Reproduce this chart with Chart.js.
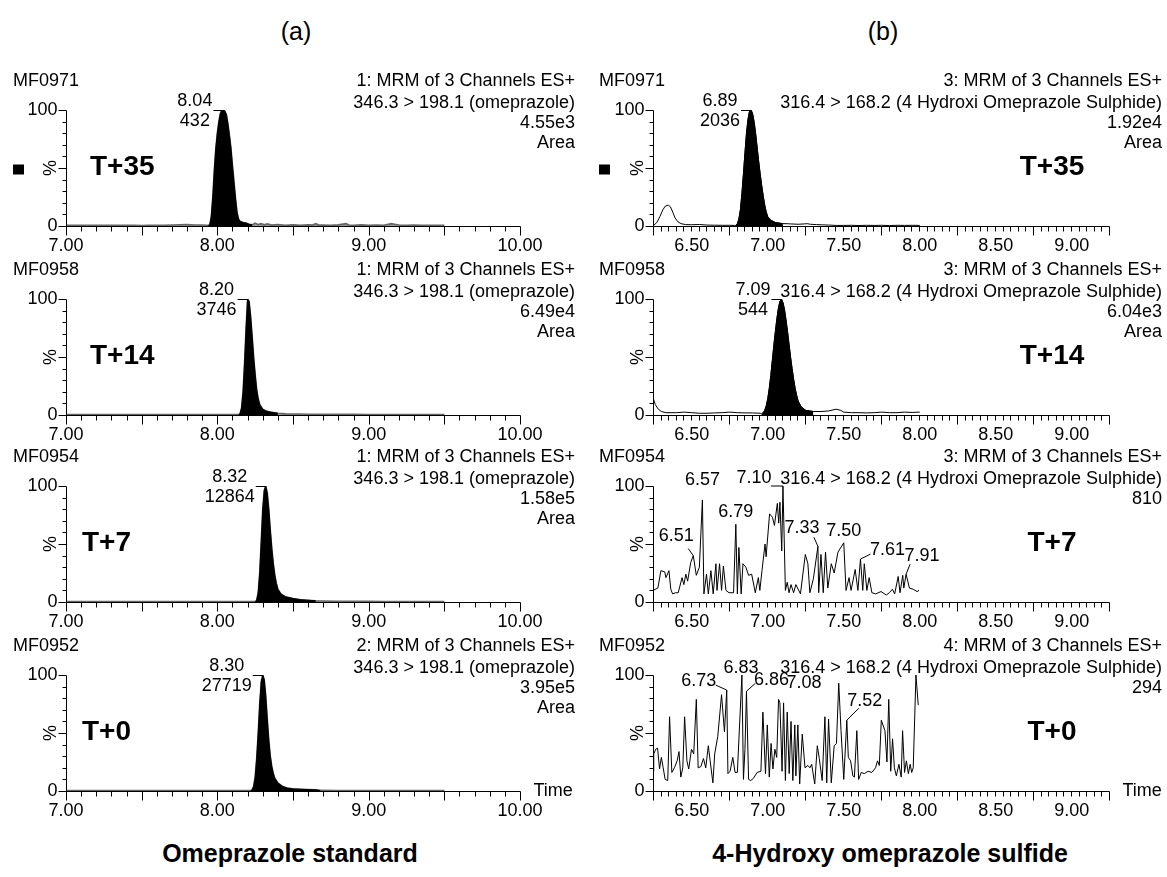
<!DOCTYPE html>
<html>
<head>
<meta charset="utf-8">
<script src="https://cdn.jsdelivr.net/npm/chart.js@4/dist/chart.umd.min.js"></script>
<style>
  body { margin: 0; background: #fff; }
  #page { position: relative; width: 1167px; height: 877px; overflow: hidden;
          font-family: "Liberation Sans", Arial, sans-serif; color: #000; }
  #page canvas { position: absolute; }
  .lbl { position: absolute; text-align: center; white-space: nowrap; line-height: 1; }
</style>
</head>
<body>
<div id="page">
  <div class="lbl" style="left:196px;width:200px;top:19px;font-size:25px">(a)</div>
  <div class="lbl" style="left:783px;width:200px;top:19px;font-size:25px">(b)</div>
  <div class="lbl" style="left:40px;width:500px;top:841px;font-size:25px;font-weight:bold">Omeprazole standard</div>
  <div class="lbl" style="left:640px;width:500px;top:841px;font-size:25px;font-weight:bold">4-Hydroxy omeprazole sulfide</div>
</div>
<script>
// ---- data: [time (min), intensity (%)] ----
const sampleIds = ['MF0971', 'MF0958', 'MF0954', 'MF0952'];
const timePoints = ['T+35', 'T+14', 'T+7', 'T+0'];

const omeChannels = ['1: MRM of 3 Channels ES+', '1: MRM of 3 Channels ES+', '1: MRM of 3 Channels ES+', '2: MRM of 3 Channels ES+'];
const omeTransition = '346.3 > 198.1 (omeprazole)';
const omeIntensity = ['4.55e3', '6.49e4', '1.58e5', '3.95e5'];
const omeAreaTag = ['Area', 'Area', 'Area', 'Area'];
const omeXTicks = [7, 8, 9, 10];
const omePeaks = [[8.04, '432'], [8.20, '3746'], [8.32, '12864'], [8.30, '27719']];
const omeFill = [[7.94, 8.23], [8.14, 8.40], [8.25, 8.65], [8.22, 8.68]];

const hydChannels = ['3: MRM of 3 Channels ES+', '3: MRM of 3 Channels ES+', '3: MRM of 3 Channels ES+', '4: MRM of 3 Channels ES+'];
const hydTransition = '316.4 > 168.2 (4 Hydroxi Omeprazole Sulphide)';
const hydIntensity = ['1.92e4', '6.04e3', '810', '294'];
const hydAreaTag = ['Area', 'Area', '', ''];
const hydXTicks = [6.5, 7, 7.5, 8, 8.5, 9];
const hydPeaks = [[6.89, '2036'], [7.09, '544'], null, null];
const hydFill = [[6.79, 7.10], [6.96, 7.30], null, null];

const omeT35 = [[7.00,0.6],[7.05,0.5],[7.10,0.6],[7.15,0.5],[7.20,0.7],[7.25,0.5],[7.30,0.6],[7.35,0.5],[7.40,0.6],[7.45,0.5],
  [7.50,0.4],[7.55,0.6],[7.60,0.5],[7.65,0.7],[7.70,0.9],[7.75,1.1],[7.80,1.2],[7.85,0.9],[7.90,0.8],[7.93,0.6],
  [7.94,0.5],[7.95,1],[7.96,8],[7.97,25],[7.98,48],[7.99,67],[8.00,80],[8.01,90],[8.02,97],[8.03,100],[8.04,100],
  [8.05,99],[8.06,96],[8.07,88],[8.08,78],[8.09,67],[8.10,52],[8.11,38],[8.12,24],[8.13,12],[8.14,6],[8.15,4],
  [8.17,3],[8.19,2.5],[8.21,1.5],[8.23,1],[8.25,2.5],[8.27,1.2],[8.29,2],[8.31,1],[8.33,1.8],[8.36,0.8],[8.40,1.2],
  [8.45,0.6],[8.50,1],[8.55,0.6],[8.60,1],[8.63,0.8],[8.65,2],[8.67,0.8],[8.70,0.9],[8.75,0.6],[8.80,1],[8.85,2],
  [8.87,0.9],[8.90,0.7],[8.95,1],[9.00,0.6],[9.05,0.8],[9.10,0.7],[9.15,2],[9.17,1.5],[9.20,0.8],[9.25,0.6],
  [9.30,0.8],[9.35,0.5],[9.40,0.6],[9.45,0.5],[9.50,0.6]];

const omeT14 = [[7.00,0.4],[7.10,0.3],[7.20,0.4],[7.30,0.3],[7.40,0.4],[7.50,0.3],[7.60,0.4],[7.70,0.3],[7.80,0.4],
  [7.90,0.3],[8.00,0.4],[8.10,0.3],[8.14,0.3],[8.15,1],[8.16,6],[8.17,20],[8.18,45],[8.19,75],[8.20,100],[8.21,98],
  [8.22,85],[8.23,68],[8.24,50],[8.25,35],[8.26,22],[8.27,14],[8.28,9],[8.30,5],[8.32,3.5],[8.35,2.5],[8.40,1.5],
  [8.45,1],[8.50,0.8],[8.55,0.8],[8.60,0.7],[8.70,0.6],[8.80,0.5],[8.90,0.5],[9.00,0.4],[9.10,0.4],[9.20,0.3],
  [9.30,0.4],[9.40,0.3],[9.50,0.3]];

const omeT7 = [[7.00,0.3],[7.10,0.4],[7.20,0.3],[7.30,0.4],[7.40,0.3],[7.50,0.4],[7.60,0.3],[7.70,0.4],[7.80,0.3],
  [7.90,0.4],[8.00,0.3],[8.10,0.4],[8.20,0.3],[8.25,0.3],[8.26,1.5],[8.27,8],[8.28,25],[8.29,52],[8.30,80],[8.31,96],
  [8.32,100],[8.33,94],[8.34,80],[8.35,62],[8.36,46],[8.37,33],[8.38,23],[8.39,16],[8.40,11],[8.42,7],[8.45,4.5],
  [8.50,3],[8.55,2],[8.60,1.5],[8.65,1],[8.70,0.8],[8.80,0.6],[8.90,0.5],[9.00,0.5],[9.10,0.4],[9.20,0.4],
  [9.30,0.3],[9.40,0.4],[9.50,0.3]];

const omeT0 = [[7.00,0.3],[7.10,0.3],[7.20,0.4],[7.30,0.3],[7.40,0.3],[7.50,0.4],[7.60,0.3],[7.70,0.3],[7.80,0.4],
  [7.90,0.3],[8.00,0.3],[8.10,0.4],[8.20,0.3],[8.22,0.3],[8.23,1],[8.24,4],[8.25,12],[8.26,28],[8.27,50],[8.28,75],
  [8.29,94],[8.30,100],[8.31,96],[8.32,82],[8.33,62],[8.34,44],[8.35,30],[8.36,21],[8.37,15],[8.38,11],[8.40,7],
  [8.43,4],[8.46,2.5],[8.50,1.8],[8.55,1.5],[8.60,1.2],[8.65,1],[8.68,0.5],[8.80,0.4],[8.90,0.4],[9.00,0.3],
  [9.10,0.3],[9.20,0.3],[9.30,0.3],[9.40,0.3],[9.50,0.3]];

const hydT35 = [[6.245,0],[6.27,3],[6.29,8],[6.31,14],[6.325,17],[6.345,18],[6.36,16.5],[6.375,12],[6.39,7],[6.41,3.5],
  [6.43,2],[6.46,1.2],[6.50,1.1],[6.55,1.3],[6.60,0.8],[6.65,0.7],[6.70,0.6],[6.75,0.6],[6.78,0.5],
  [6.79,0.5],[6.80,2],[6.81,6],[6.82,14],[6.83,28],[6.84,45],[6.85,63],[6.86,80],[6.87,92],[6.88,99],[6.89,100],
  [6.90,97],[6.91,90],[6.92,80],[6.93,68],[6.94,56],[6.95,45],[6.96,35],[6.97,26],[6.98,18],[6.99,12],[7.00,8],
  [7.02,5],[7.05,3],[7.10,2],[7.12,2],[7.15,1.8],[7.20,1.5],[7.24,1.8],[7.26,2],[7.28,1.5],[7.32,1.2],[7.36,1],
  [7.40,0.8],[7.45,0.5],[7.50,0.5],[7.55,0.6],[7.60,0.4],[7.65,0.6],[7.70,0.5],[7.75,0.6],[7.80,0.4],[7.85,0.6],
  [7.90,0.5],[7.95,0.6],[8.00,0.5]];

const hydT14 = [[6.245,15],[6.26,9],[6.28,5],[6.30,3],[6.33,2],[6.40,2],[6.45,2.5],[6.50,2],[6.55,1.5],[6.60,1.5],
  [6.65,1.8],[6.70,2],[6.75,2.5],[6.80,2],[6.85,1.8],[6.90,1.8],[6.95,1.5],[6.96,1],[6.97,2],[6.98,4],[6.99,8],
  [7.00,14],[7.01,23],[7.02,34],[7.03,47],[7.04,60],[7.05,72],[7.06,83],[7.07,92],[7.08,98],[7.09,100],[7.10,97],
  [7.11,91],[7.12,82],[7.13,72],[7.14,61],[7.15,50],[7.16,40],[7.17,31],[7.18,23],[7.19,17],[7.20,12],[7.22,7],
  [7.25,4],[7.30,3],[7.35,3],[7.40,3.5],[7.45,5],[7.48,4],[7.50,2.5],[7.55,2],[7.60,2],[7.65,1.8],[7.70,2],
  [7.75,2.5],[7.80,2],[7.85,2],[7.90,2.5],[7.95,2.2],[8.00,2.5]];

const hydT7 = [[6.245,10],[6.277,12],[6.297,27],[6.322,26],[6.330,21],[6.350,27],[6.362,11],[6.374,7],[6.394,8],
  [6.411,8],[6.436,21],[6.448,15],[6.461,24],[6.473,18],[6.493,34],[6.51,40],[6.53,23],[6.55,30],[6.57,88],[6.58,7],
  [6.597,24],[6.609,7],[6.626,27],[6.641,7],[6.659,33],[6.666,10],[6.683,33],[6.696,10],[6.708,31],[6.725,10],
  [6.745,8],[6.775,8],[6.79,67],[6.80,7],[6.81,47],[6.825,7],[6.837,33],[6.856,30],[6.874,23],[6.894,24],[6.918,8],
  [6.938,21],[6.948,10],[6.962,27],[6.982,50],[6.989,39],[7.012,76],[7.031,73],[7.044,66],[7.063,85],[7.072,68],
  [7.08,86],[7.092,44],[7.10,100],[7.116,10],[7.128,17],[7.14,8],[7.153,15],[7.17,8],[7.185,15],[7.215,7],
  [7.247,41],[7.264,33],[7.277,8],[7.30,20],[7.33,48],[7.335,8],[7.35,41],[7.365,8],[7.38,43],[7.395,12],[7.418,33],
  [7.437,25],[7.462,43],[7.50,51],[7.515,10],[7.535,21],[7.548,10],[7.575,28],[7.593,10],[7.61,37],[7.625,10],
  [7.635,33],[7.652,10],[7.667,21],[7.685,8],[7.71,7],[7.745,9],[7.78,6],[7.80,8],[7.82,11],[7.835,7],[7.858,22],
  [7.87,8],[7.888,23],[7.895,12],[7.91,24],[7.932,12],[7.957,11],[7.982,9],[7.995,10]];

const hydT0 = [[6.245,17],[6.25,32],[6.263,36],[6.275,37],[6.288,19],[6.30,29],[6.312,20],[6.325,10],[6.342,9],
  [6.354,64],[6.369,16],[6.386,20],[6.404,26],[6.416,34],[6.428,12],[6.441,20],[6.453,64],[6.468,26],[6.48,19],
  [6.498,36],[6.513,32],[6.53,79],[6.542,20],[6.56,21],[6.577,28],[6.592,20],[6.609,39],[6.621,26],[6.639,7],
  [6.651,32],[6.671,47],[6.696,83],[6.715,51],[6.73,87],[6.738,15],[6.752,17],[6.77,29],[6.785,16],[6.80,16],
  [6.83,100],[6.84,10],[6.85,36],[6.86,86],[6.874,10],[6.888,9],[6.906,11],[6.93,16],[6.955,17],[6.968,68],
  [6.985,15],[6.997,57],[7.01,12],[7.022,41],[7.034,19],[7.047,36],[7.059,29],[7.071,79],[7.08,76],[7.094,17],
  [7.104,76],[7.116,9],[7.128,68],[7.141,15],[7.153,60],[7.165,9],[7.178,57],[7.185,13],[7.198,57],[7.21,6],
  [7.227,49],[7.245,20],[7.264,22],[7.277,20],[7.289,23],[7.309,6],[7.326,39],[7.339,28],[7.358,9],[7.376,64],
  [7.388,7],[7.40,62],[7.418,7],[7.437,39],[7.452,41],[7.467,93],[7.482,52],[7.50,10],[7.52,61],[7.53,29],
  [7.545,26],[7.56,13],[7.57,12],[7.586,52],[7.598,10],[7.615,16],[7.635,15],[7.66,17],[7.685,16],[7.709,20],
  [7.722,26],[7.734,22],[7.747,61],[7.771,52],[7.784,25],[7.796,79],[7.809,17],[7.821,45],[7.833,20],[7.846,13],
  [7.863,23],[7.878,12],[7.887,52],[7.90,16],[7.912,26],[7.925,15],[7.937,23],[7.947,16],[7.957,20],[7.975,100],
  [7.99,74]];

// labelled apexes of the noisy traces: [time, intensity]
const hydT7Apex = [[6.51,40],[6.57,88],[6.79,67],[7.10,100],[7.33,48],[7.50,51],[7.61,37],[7.91,24]];
const hydT0Apex = [[6.73,87],[6.83,100],[6.86,86],[7.08,76],[7.52,61]];

// ---- layout / style (kept apart from the data) ----
// label placement relative to apex: [dx, dy, leaderX, leaderY]
const hydT7LabelPos = [[-17,-20,-5,-7],[0,-20],[0,-12],[-29,-8,-12,0],[-16,-18,-4,-9],[0,-12],[27,-9,10,-5],[16,-18,4,-10]];
const hydT0LabelPos = [[-28,-9,-11,-5],[-1,-7],[25,-11,9,-8],[24,-20],[18,-19,12,-12]];

const FONT = '"Liberation Sans", Arial, sans-serif';
const rowTop = [110, 299, 486, 675];
const PLOT_H = 116, PAD_T = 50, PAD_B = 30;

const columns = [
  { pageX: 0, width: 583, padL: 66, padR: 63, xMin: 7, xMax: 10, minor: 0.1, major: 0.5, textRight: 575, mfX: 13,
    tagX: [90, 90, 82, 82], tagAlign: 'left', grey: true,
    xTicks: omeXTicks, channels: omeChannels, transition: omeTransition, intensity: omeIntensity, areaTag: omeAreaTag,
    peaks: omePeaks, fills: omeFill, traces: [omeT35, omeT14, omeT7, omeT0], apex: [null, null, null, null] },
  { pageX: 583, width: 584, padL: 70, padR: 58, xMin: 6.245, xMax: 9.245, minor: 0.05, major: 0.5, textRight: 1162, mfX: 599,
    tagX: [1052, 1052, 1052, 1052], tagAlign: 'center', grey: false,
    xTicks: hydXTicks, channels: hydChannels, transition: hydTransition, intensity: hydIntensity, areaTag: hydAreaTag,
    peaks: hydPeaks, fills: hydFill, traces: [hydT35, hydT14, hydT7, hydT0],
    apex: [null, null, [hydT7Apex, hydT7LabelPos], [hydT0Apex, hydT0LabelPos]] }
];

function decor(col, r) {
  return {
    id: 'decor',
    afterDatasetsDraw(chart) {
      const c = chart.ctx, xs = chart.scales.x, ys = chart.scales.y, a = chart.chartArea;
      const L = Math.round(a.left) + 0.5, R = Math.round(a.right) + 0.5;
      const T = Math.round(a.top) + 0.5, B = Math.round(a.bottom) + 0.5;
      c.save();
      c.strokeStyle = '#000'; c.fillStyle = '#000'; c.lineWidth = 1;

      // axes and ticks
      c.beginPath();
      c.moveTo(L, T); c.lineTo(L, B); c.lineTo(R, B);
      for (let v = 0; v <= 100; v += 10) {
        const y = Math.round(ys.getPixelForValue(v)) + 0.5;
        c.moveTo(L - (v % 50 === 0 ? 8 : 4), y); c.lineTo(L, y);
      }
      const n = Math.round((col.xMax - col.xMin) / col.minor), every = Math.round(col.major / col.minor);
      for (let i = 0; i <= n; i++) {
        const x = Math.round(xs.getPixelForValue(col.xMin + i * col.minor)) + 0.5;
        c.moveTo(x, B); c.lineTo(x, B + (i % every === 0 ? 9 : 5));
      }
      c.stroke();

      c.font = '18px ' + FONT;
      c.textBaseline = 'middle';
      c.textAlign = 'right';
      c.fillText('100', L - 9, T);
      c.fillText('0', L - 9, B);
      c.textAlign = 'center';
      col.xTicks.forEach(v => c.fillText(v.toFixed(2), xs.getPixelForValue(v), B + 20));
      c.save();
      c.translate(L - 15, ys.getPixelForValue(50));
      c.rotate(-Math.PI / 2);
      c.fillText('%', 0, 0);
      c.restore();
      if (r === 3) { c.textAlign = 'left'; c.fillText('Time', R + 13, B); }

      // header
      c.textAlign = 'left';
      c.fillText(sampleIds[r], col.mfX - col.pageX, T - 29);
      c.textAlign = 'right';
      const tr = col.textRight - col.pageX;
      [col.channels[r], col.transition, col.intensity[r], col.areaTag[r]].forEach((s, i) => {
        if (s) c.fillText(s, tr, T + [-29, -7, 13, 33][i]);
      });

      // main peak: retention time above, height below
      const pk = col.peaks[r];
      if (pk) {
        const px = xs.getPixelForValue(pk[0]), py = ys.getPixelForValue(100);
        const top = pk[0].toFixed(2);
        const w = Math.max(c.measureText(top).width, c.measureText(pk[1]).width);
        const cx = px - 11 - w / 2;
        c.textAlign = 'center';
        c.fillText(top, cx, py - 9);
        c.fillText(pk[1], cx, py + 11);
        c.beginPath();
        c.moveTo(px - 10, Math.round(py) + 0.5); c.lineTo(px, Math.round(py) + 0.5);
        c.stroke();
      }

      // labelled apexes on noisy traces
      const ap = col.apex[r];
      if (ap) {
        c.textAlign = 'center';
        ap[0].forEach((p, i) => {
          const pos = ap[1][i];
          const px = xs.getPixelForValue(p[0]), py = ys.getPixelForValue(p[1]);
          c.fillText(p[0].toFixed(2), px + pos[0], py + pos[1]);
          if (pos.length > 2) {
            c.beginPath();
            c.moveTo(px + pos[2], py + pos[3]); c.lineTo(px, py);
            c.stroke();
          }
        });
      }

      // sample timepoint tag
      c.font = 'bold 28px ' + FONT;
      c.textAlign = col.tagAlign;
      c.fillText(timePoints[r], col.tagX[r] - col.pageX, T + 57);
      if (r === 0) c.fillRect(col.mfX - col.pageX, T + 54, 11, 10);
      c.restore();
    }
  };
}

const page = document.getElementById('page');
columns.forEach(col => {
  rowTop.forEach((y100, r) => {
    const cv = document.createElement('canvas');
    cv.width = col.width;
    cv.height = PAD_T + PLOT_H + PAD_B;
    cv.style.left = col.pageX + 'px';
    cv.style.top = (y100 - PAD_T) + 'px';
    page.appendChild(cv);

    const trace = col.traces[r].map(p => ({ x: p[0], y: p[1] }));
    const datasets = [];
    const f = col.fills[r];
    if (f) {
      datasets.push({
        data: trace.filter(p => p.x >= f[0] - 1e-9 && p.x <= f[1] + 1e-9),
        borderColor: '#000', backgroundColor: '#000', borderWidth: 1, fill: 'origin'
      });
    }
    datasets.push({
      data: trace,
      borderColor: col.grey ? '#666' : '#000',
      backgroundColor: '#999',
      borderWidth: col.grey ? 1.6 : 1,
      fill: col.grey ? 'origin' : false
    });

    new Chart(cv.getContext('2d'), {
      type: 'line',
      data: { datasets },
      options: {
        responsive: false,
        animation: false,
        events: [],
        layout: { padding: { left: col.padL, right: col.padR, top: PAD_T, bottom: PAD_B } },
        plugins: { legend: { display: false }, tooltip: { enabled: false } },
        elements: { point: { radius: 0 }, line: { tension: 0 } },
        scales: {
          x: { type: 'linear', min: col.xMin, max: col.xMax, display: false },
          y: { min: 0, max: 100, display: false }
        }
      },
      plugins: [decor(col, r)]
    });
  });
});
</script>
</body>
</html>
